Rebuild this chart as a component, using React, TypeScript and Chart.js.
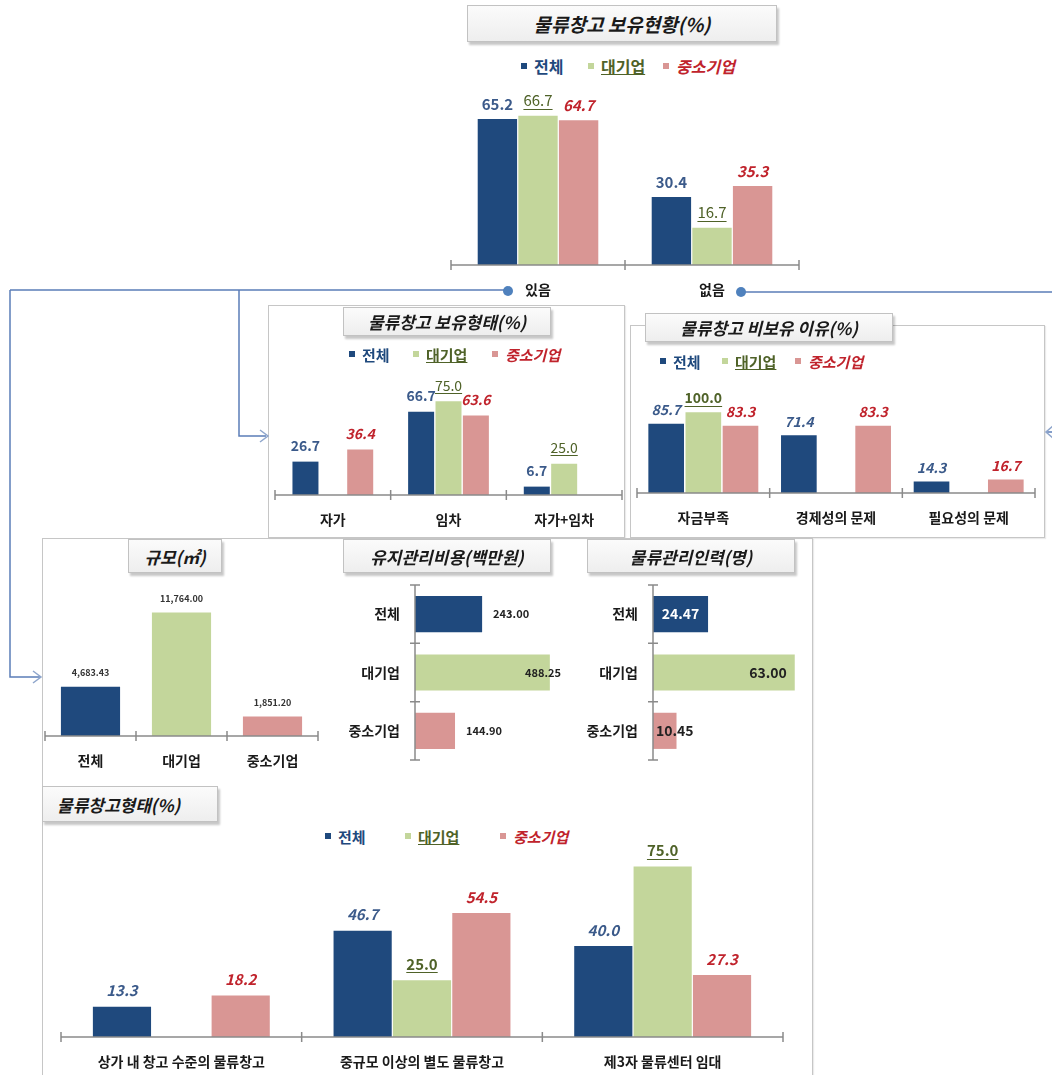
import React, { useEffect, useRef } from 'react';
import { Chart, registerables } from 'chart.js';

Chart.register(...registerables);

const FONT = '"Noto Sans CJK KR", "Noto Sans", sans-serif';
Chart.defaults.font.family = FONT;

const NAVY = '#1f497d';
const GREEN = '#c3d69b';
const PINK = '#d99694';
const TXT_BLUE = '#3b5a8a';
const TXT_OLIVE = '#4f6228';
const TXT_RED = '#c0232c';

// ---- data ----
const seriesNames = ['전체', '대기업', '중소기업'];

const ownCategories = ['있음', '없음'];
const ownTotal = [65.2, 30.4];
const ownLarge = [66.7, 16.7];
const ownSme = [64.7, 35.3];

const typeCategories = ['자가', '임차', '자가+임차'];
const typeTotal = [26.7, 66.7, 6.7];
const typeLarge = [null, 75.0, 25.0];
const typeSme = [36.4, 63.6, null];

const reasonCategories = ['자금부족', '경제성의 문제', '필요성의 문제'];
const reasonTotal = [85.7, 71.4, 14.3];
const reasonLarge = [100.0, null, null];
const reasonSme = [83.3, 83.3, 16.7];

const sizeCategories = ['전체', '대기업', '중소기업'];
const sizeValues = [4683.43, 11764.0, 1851.2];

const costCategories = ['전체', '대기업', '중소기업'];
const costValues = [243.0, 488.25, 144.9];

const staffCategories = ['전체', '대기업', '중소기업'];
const staffValues = [24.47, 63.0, 10.45];

const formCategories = ['상가 내 창고 수준의 물류창고', '중규모 이상의 별도 물류창고', '제3자 물류센터 임대'];
const formTotal = [13.3, 46.7, 40.0];
const formLarge = [null, 25.0, 75.0];
const formSme = [18.2, 54.5, 27.3];

// ---- plugins ----
type LStyle = { color: string; size: number; weight?: string; italic?: boolean; underline?: boolean };

function fontOf(s: LStyle) {
  return `${s.italic ? 'italic ' : ''}${s.weight || 'bold'} ${s.size}px ${FONT}`;
}

function labelPlugin(cfg: {
  style: (ds: number, i: number) => LStyle;
  format: (v: number) => string;
  place: (bar: any, ds: number, i: number, w: number) => { x: number; y: number; align: CanvasTextAlign };
}) {
  return {
    id: 'valueLabels',
    afterDatasetsDraw(chart: any) {
      const ctx = chart.ctx;
      chart.data.datasets.forEach((ds: any, di: number) => {
        const meta = chart.getDatasetMeta(di);
        meta.data.forEach((bar: any, i: number) => {
          const v = ds.data[i];
          if (v === null || v === undefined) return;
          const st = cfg.style(di, i);
          const text = cfg.format(v);
          ctx.save();
          ctx.font = fontOf(st);
          ctx.fillStyle = st.color;
          ctx.textBaseline = 'middle';
          const w = ctx.measureText(text).width;
          const p = cfg.place(bar, di, i, w);
          ctx.textAlign = p.align;
          ctx.fillText(text, p.x, p.y);
          if (st.underline) {
            const x0 = p.align === 'center' ? p.x - w / 2 : p.align === 'right' ? p.x - w : p.x;
            const uy = Math.round(p.y + st.size * 0.55) + 0.5;
            ctx.strokeStyle = st.color;
            ctx.lineWidth = 1;
            ctx.beginPath();
            ctx.moveTo(x0, uy);
            ctx.lineTo(x0 + w, uy);
            ctx.stroke();
          }
          ctx.restore();
        });
      });
    },
  };
}

function axisPlugin(horizontal: boolean) {
  return {
    id: 'crossAxis',
    afterDatasetsDraw(chart: any) {
      const { ctx, chartArea: a } = chart;
      const n = chart.data.labels.length;
      ctx.save();
      ctx.strokeStyle = '#8a8a8a';
      ctx.lineWidth = 1.5;
      ctx.beginPath();
      if (!horizontal) {
        const y = a.bottom;
        ctx.moveTo(a.left, y);
        ctx.lineTo(a.right, y);
        for (let k = 0; k <= n; k++) {
          const x = a.left + ((a.right - a.left) * k) / n;
          ctx.moveTo(x, y - 5);
          ctx.lineTo(x, y + 5);
        }
      } else {
        const x = a.left;
        ctx.moveTo(x, a.top);
        ctx.lineTo(x, a.bottom);
        for (let k = 0; k <= n; k++) {
          const y = a.top + ((a.bottom - a.top) * k) / n;
          ctx.moveTo(x - 5, y);
          ctx.lineTo(x + 5, y);
        }
      }
      ctx.stroke();
      ctx.restore();
    },
  };
}

const seriesLabelStyles = (size: number, blueItalic: boolean): LStyle[] => [
  { color: TXT_BLUE, size, italic: blueItalic },
  { color: TXT_OLIVE, size, underline: true },
  { color: TXT_RED, size, italic: true },
];

function groupedConfig(o: {
  labels: string[];
  series: (number | null)[][];
  max: number;
  pad: { left: number; right: number; top: number; bottom: number };
  catPct: number;
  barPct: number;
  styles: LStyle[];
  offset: number;
}) {
  const colors = [NAVY, GREEN, PINK];
  return {
    type: 'bar',
    data: {
      labels: o.labels,
      datasets: o.series.map((d, k) => ({
        label: seriesNames[k],
        data: d,
        backgroundColor: colors[k],
        categoryPercentage: o.catPct,
        barPercentage: o.barPct,
      })),
    },
    options: {
      responsive: false,
      maintainAspectRatio: false,
      animation: false,
      layout: { padding: o.pad },
      plugins: { legend: { display: false }, tooltip: { enabled: false } },
      scales: {
        x: {
          offset: true,
          grid: { display: false, drawTicks: false },
          border: { display: false },
          ticks: { color: '#1a1a1a', padding: 18, font: { size: 14, weight: 'bold', lineHeight: 1 } },
        },
        y: { display: false, min: 0, max: o.max },
      },
    },
    plugins: [
      axisPlugin(false),
      labelPlugin({
        style: (ds) => o.styles[ds],
        format: (v) => v.toFixed(1),
        place: (bar) => ({ x: bar.x, y: bar.y - o.offset, align: 'center' }),
      }),
    ],
  };
}

function sizeConfig() {
  return {
    type: 'bar',
    data: {
      labels: sizeCategories,
      datasets: [
        {
          label: '규모',
          data: sizeValues,
          backgroundColor: [NAVY, GREEN, PINK],
          categoryPercentage: 0.65,
          barPercentage: 1.0,
        },
      ],
    },
    options: {
      responsive: false,
      maintainAspectRatio: false,
      animation: false,
      layout: { padding: { left: 5, right: 5, top: 9, bottom: 0 } },
      plugins: { legend: { display: false }, tooltip: { enabled: false } },
      scales: {
        x: {
          offset: true,
          grid: { display: false, drawTicks: false },
          border: { display: false },
          ticks: { color: '#1a1a1a', padding: 18, font: { size: 14, weight: 'bold', lineHeight: 1 } },
        },
        y: { display: false, min: 0, max: 14000 },
      },
    },
    plugins: [
      axisPlugin(false),
      labelPlugin({
        style: () => ({ color: '#333333', size: 9 }),
        format: (v) => v.toLocaleString('en-US', { minimumFractionDigits: 2, maximumFractionDigits: 2 }),
        place: (bar) => ({ x: bar.x, y: bar.y - 14, align: 'center' }),
      }),
    ],
  };
}

function hbarConfig(o: {
  labels: string[];
  values: number[];
  max: number;
  axisWidth: number;
  padRight: number;
  styles: (i: number) => LStyle;
  place: (bar: any, i: number, w: number) => { x: number; y: number; align: CanvasTextAlign };
}) {
  return {
    type: 'bar',
    data: {
      labels: o.labels,
      datasets: [
        {
          label: 'v',
          data: o.values,
          backgroundColor: [NAVY, GREEN, PINK],
          categoryPercentage: 0.62,
          barPercentage: 1.0,
        },
      ],
    },
    options: {
      indexAxis: 'y',
      responsive: false,
      maintainAspectRatio: false,
      animation: false,
      layout: { padding: { left: 0, right: o.padRight, top: 10, bottom: 10 } },
      plugins: { legend: { display: false }, tooltip: { enabled: false } },
      scales: {
        y: {
          offset: true,
          grid: { display: false, drawTicks: false },
          border: { display: false },
          ticks: { color: '#1a1a1a', padding: 15, font: { size: 14, weight: 'bold', lineHeight: 1 } },
          afterFit: (scale: any) => {
            scale.width = o.axisWidth;
            scale.paddingTop = 0;
            scale.paddingBottom = 0;
          },
        },
        x: { display: false, min: 0, max: o.max },
      },
    },
    plugins: [
      axisPlugin(true),
      labelPlugin({
        style: (_ds, i) => o.styles(i),
        format: (v) => v.toFixed(2),
        place: (bar, _ds, i, w) => o.place(bar, i, w),
      }),
    ],
  };
}

// ---- components ----
function ChartCanvas({ x, y, w, h, make }: { x: number; y: number; w: number; h: number; make: () => any }) {
  const ref = useRef<HTMLCanvasElement>(null);
  useEffect(() => {
    const chart = new Chart(ref.current as HTMLCanvasElement, make());
    return () => chart.destroy();
  }, []);
  return (
    <canvas
      ref={ref}
      width={w}
      height={h}
      style={{ position: 'absolute', left: x, top: y, width: w, height: h }}
    />
  );
}

function TitleBox({ x, y, w, h, text, size, left }: { x: number; y: number; w: number; h: number; text: string; size: number; left?: boolean }) {
  return (
    <div
      style={{
        position: 'absolute',
        left: x,
        top: y,
        width: w,
        height: h,
        boxSizing: 'border-box',
        border: '1px solid #c2c2c2',
        background: 'linear-gradient(#fbfbfb, #eeeeee)',
        boxShadow: '2px 3px 2px rgba(0,0,0,0.22)',
        display: 'flex',
        alignItems: 'center',
        justifyContent: left ? 'flex-start' : 'center',
        paddingLeft: left ? 14 : 0,
        font: `italic bold ${size}px ${FONT}`,
        color: '#1a1a1a',
        whiteSpace: 'nowrap',
      }}
    >
      {text}
    </div>
  );
}

function Legend({ y, xs, size }: { y: number; xs: number[]; size: number }) {
  const sq = [NAVY, GREEN, PINK];
  const txt: React.CSSProperties[] = [
    { color: NAVY, fontWeight: 'bold' },
    { color: TXT_OLIVE, fontWeight: 'bold', textDecoration: 'underline' },
    { color: TXT_RED, fontWeight: 'bold', fontStyle: 'italic' },
  ];
  return (
    <>
      {seriesNames.map((n, k) => (
        <div
          key={n}
          style={{
            position: 'absolute',
            left: xs[k],
            top: y - size * 0.7,
            height: size * 1.4,
            display: 'flex',
            alignItems: 'center',
            fontFamily: FONT,
            fontSize: size,
            lineHeight: 1,
            whiteSpace: 'nowrap',
          }}
        >
          <span style={{ display: 'inline-block', width: 6, height: 6, background: sq[k], marginRight: 7 }} />
          <span style={txt[k]}>{n}</span>
        </div>
      ))}
    </>
  );
}

function Panel({ x, y, w, h }: { x: number; y: number; w: number; h: number }) {
  return (
    <div
      style={{
        position: 'absolute',
        left: x,
        top: y,
        width: w,
        height: h,
        boxSizing: 'border-box',
        border: '1px solid #c6c6c6',
        boxShadow: '1px 1px 1px rgba(0,0,0,0.08)',
      }}
    />
  );
}

function Connectors() {
  const line = '#5b7db8';
  const arrow = '#8fa6cc';
  return (
    <svg width={1052} height={1075} style={{ position: 'absolute', left: 0, top: 0, pointerEvents: 'none' }}>
      <path d="M10 290 H508 M10 290 V677 H40 M239 290 V436 H266 M741 292 H1052 M1046 432 H1052" stroke={line} strokeWidth={1.5} fill="none" />
      <polyline points="33,671 41,677 33,683" stroke={arrow} strokeWidth={1.5} fill="none" />
      <polyline points="260,430 268,436 260,442" stroke={arrow} strokeWidth={1.5} fill="none" />
      <polyline points="1053,426 1046,432 1053,438" stroke={arrow} strokeWidth={1.5} fill="none" />
      <circle cx={508} cy={291} r={5} fill="#4f81bd" />
      <circle cx={741} cy={292} r={5} fill="#4f81bd" />
    </svg>
  );
}

export default function App() {
  return (
    <div
      style={{
        position: 'absolute',
        left: 0,
        top: 0,
        width: 1052,
        height: 1075,
        overflow: 'hidden',
        background: '#ffffff',
        fontFamily: FONT,
      }}
    >
      <Panel x={268} y={305} w={357} h={233} />
      <Panel x={630} y={325} w={415} h={213} />
      <Panel x={42} y={538} w={771} h={560} />
      <Connectors />

      <TitleBox x={467} y={5} w={310} h={37} text="물류창고 보유현황(%)" size={19} />
      <Legend y={66} xs={[521, 588, 663]} size={16} />
      <ChartCanvas
        x={440}
        y={75}
        w={370}
        h={240}
        make={() =>
          groupedConfig({
            labels: ownCategories,
            series: [ownTotal, ownLarge, ownSme],
            max: 80,
            pad: { left: 11, right: 11, top: 11, bottom: 0 },
            catPct: 0.7,
            barPct: 0.97,
            styles: [
              { color: TXT_BLUE, size: 15 },
              { color: TXT_OLIVE, size: 15, weight: 'normal', underline: true },
              { color: TXT_RED, size: 15, italic: true },
            ],
            offset: 15,
          })
        }
      />

      <TitleBox x={343} y={307} w={208} h={29} text="물류창고 보유형태(%)" size={17} />
      <Legend y={354} xs={[349, 413, 492]} size={15} />
      <ChartCanvas
        x={270}
        y={360}
        w={357}
        h={185}
        make={() =>
          groupedConfig({
            labels: typeCategories,
            series: [typeTotal, typeLarge, typeSme],
            max: 100,
            pad: { left: 5, right: 5, top: 10, bottom: 0 },
            catPct: 0.71,
            barPct: 0.95,
            styles: [
              { color: TXT_BLUE, size: 14 },
              { color: TXT_OLIVE, size: 14, weight: 'normal', underline: true },
              { color: TXT_RED, size: 14, italic: true },
            ],
            offset: 16,
          })
        }
      />

      <TitleBox x={645} y={313} w={248} h={29} text="물류창고 비보유 이유(%)" size={17} />
      <Legend y={361} xs={[660, 722, 795]} size={15} />
      <ChartCanvas
        x={632}
        y={386}
        w={408}
        h={157}
        make={() =>
          groupedConfig({
            labels: reasonCategories,
            series: [reasonTotal, reasonLarge, reasonSme],
            max: 120,
            pad: { left: 5, right: 5, top: 10, bottom: 0 },
            catPct: 0.84,
            barPct: 0.96,
            styles: seriesLabelStyles(14, true),
            offset: 14,
          })
        }
      />

      <TitleBox x={128} y={539} w={94} h={34} text="규모(㎡)" size={17} />
      <ChartCanvas x={40} y={580} w={283} h={206} make={sizeConfig} />

      <TitleBox x={343} y={539} w={208} h={34} text="유지관리비용(백만원)" size={17} />
      <ChartCanvas
        x={330}
        y={575}
        w={240}
        h={195}
        make={() =>
          hbarConfig({
            labels: costCategories,
            values: costValues,
            max: 525,
            axisWidth: 85,
            padRight: 10,
            styles: () => ({ color: '#222222', size: 11 }),
            place: (bar, _i, w) => ({ x: Math.min(bar.x + 11, 561 - 330 - w), y: bar.y, align: 'left' }),
          })
        }
      />

      <TitleBox x={587} y={539} w={208} h={34} text="물류관리인력(명)" size={17} />
      <ChartCanvas
        x={570}
        y={575}
        w={230}
        h={195}
        make={() =>
          hbarConfig({
            labels: staffCategories,
            values: staffValues,
            max: 64,
            axisWidth: 83,
            padRight: 3,
            styles: (i) => ({ color: i === 0 ? '#ffffff' : '#222222', size: 14 }),
            place: (bar, i) => {
              if (i === 0) return { x: (bar.x + bar.base) / 2, y: bar.y, align: 'center' };
              if (i === 1) return { x: bar.x - 8, y: bar.y, align: 'right' };
              return { x: bar.base + 3, y: bar.y, align: 'left' };
            },
          })
        }
      />

      <TitleBox x={42} y={786} w={176} h={36} text="물류창고형태(%)" size={17} left />
      <Legend y={836} xs={[325, 405, 500]} size={15} />
      <ChartCanvas
        x={56}
        y={845}
        w={732}
        h={242}
        make={() =>
          groupedConfig({
            labels: formCategories,
            series: [formTotal, formLarge, formSme],
            max: 80,
            pad: { left: 5, right: 5, top: 10, bottom: 0 },
            catPct: 0.74,
            barPct: 0.98,
            styles: seriesLabelStyles(15, true),
            offset: 16,
          })
        }
      />
    </div>
  );
}
